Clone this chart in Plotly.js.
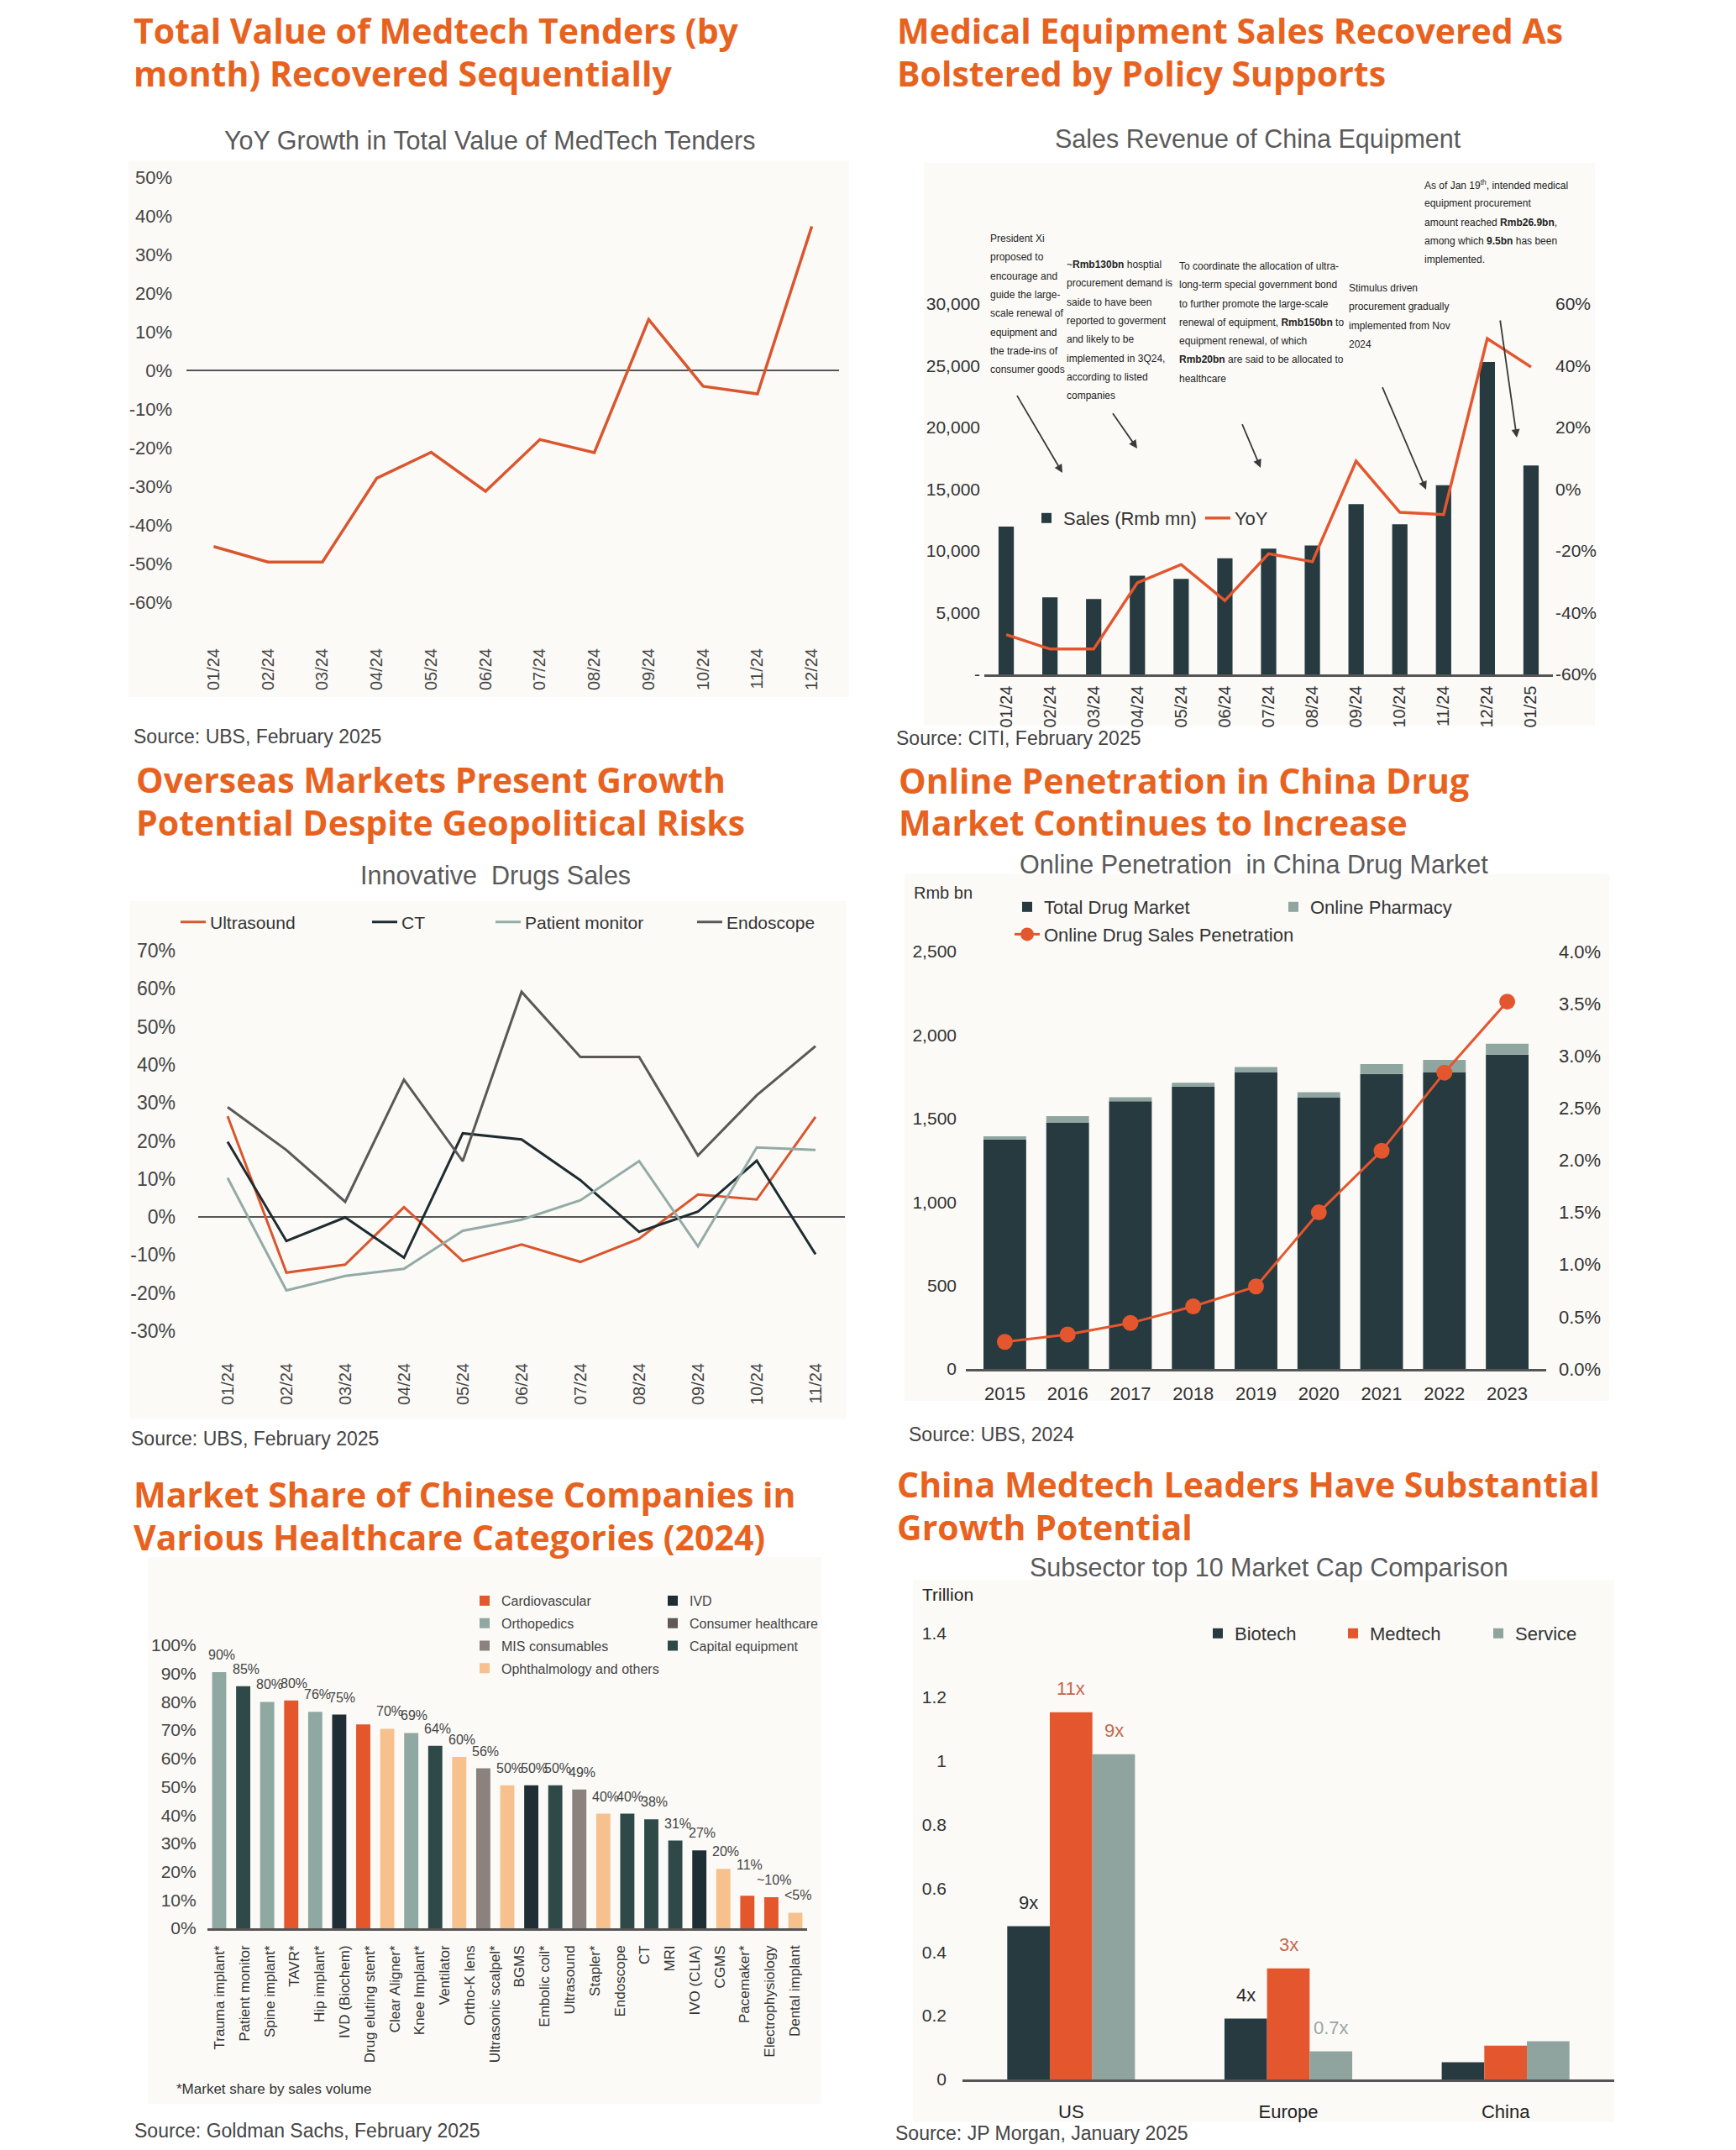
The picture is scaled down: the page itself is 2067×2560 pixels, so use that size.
<!DOCTYPE html>
<html>
<head>
<meta charset="utf-8">
<script src="https://cdn.plot.ly/plotly-3.0.1.min.js"></script>
<style>html,body{margin:0;padding:0;background:#fff}#chart{width:2067px;height:2560px}</style>
</head>
<body>
<div id="chart"></div>
<script>
// ================= DATA =================
// Panel 1: YoY growth in total value of MedTech tenders (%)
const tenderMonths = ['01/24','02/24','03/24','04/24','05/24','06/24','07/24','08/24','09/24','10/24','11/24','12/24'];
const tenderYoY = [-45.6,-49.6,-49.6,-27.9,-21.2,-31.3,-17.9,-21.3,13.2,-4.1,-6.1,37.3];

// Panel 2: Sales revenue of China equipment
const equipMonths = ['01/24','02/24','03/24','04/24','05/24','06/24','07/24','08/24','09/24','10/24','11/24','12/24','01/25'];
const equipSales = [11970,6250,6100,8000,7740,9410,10180,10440,13800,12160,15320,25300,16920];
const equipYoY = [-47.1,-51.8,-51.8,-30.3,-24.4,-36.1,-20.9,-23.5,9.1,-7.5,-8.2,48.8,39.6];
const note1 = ['President Xi','proposed to','encourage and','guide the large-','scale renewal of','equipment and','the trade-ins of','consumer goods'];
const note2 = ['~<b>Rmb130bn</b> hosptial','procurement demand is','saide to have been','reported to goverment','and likely to be','implemented in 3Q24,','according to listed','companies'];
const note3 = ['To coordinate the allocation of ultra-','long-term special government bond','to further promote the large-scale','renewal of equipment, <b>Rmb150bn</b> to','equipment renewal, of which','<b>Rmb20bn</b> are said to be allocated to','healthcare'];
const note4 = ['Stimulus driven','procurement gradually','implemented from Nov','2024'];
const note5 = ['As of Jan 19<sup>th</sup>, intended medical','equipment procurement','amount reached <b>Rmb26.9bn</b>,','among which <b>9.5bn</b> has been','implemented.'];

// Panel 3: Innovative drugs sales (%)
const drugMonths = ['01/24','02/24','03/24','04/24','05/24','06/24','07/24','08/24','09/24','10/24','11/24'];
const ultrasound = [26.5,-14.6,-12.5,2.6,-11.6,-7.2,-11.8,-5.7,5.9,4.6,26.3];
const ct = [19.8,-6.3,-0.1,-10.7,22.0,20.4,9.7,-3.9,1.4,14.8,-9.8];
const patientMonitor = [10.3,-19.3,-15.5,-13.6,-3.6,-0.7,4.4,14.7,-7.7,18.3,17.6];
const endoscope = [28.9,17.6,4.0,36.1,14.7,59.2,42.1,42.1,16.2,32.0,44.9];

// Panel 4: Online penetration in China drug market
const years = ['2015','2016','2017','2018','2019','2020','2021','2022','2023'];
const totalDrugMarket = [1374,1476,1603,1692,1778,1627,1767,1778,1883];
const onlinePharmacy = [19,38,24,22,30,30,59,73,65];
const onlinePenetration = [0.26,0.33,0.44,0.60,0.79,1.50,2.09,2.84,3.52];

// Panel 5: Market share of Chinese companies (2024)
const shareBars = ['Trauma implant*','Patient monitor','Spine implant*','TAVR*','Hip implant*','IVD (Biochem)','Drug eluting stent*','Clear Aligner*','Knee Implant*','Ventilator','Ortho-K lens','Ultrasonic scalpel*','BGMS','Embolic coil*','Ultrasound','Stapler*','(unlabelled)','Endoscope','CT','MRI','IVO (CLIA)','CGMS','Pacemaker*','Electrophysiology','Dental implant'];
const shareLabels = ['Trauma implant*','Patient monitor','Spine implant*','TAVR*','Hip implant*','IVD (Biochem)','Drug eluting stent*','Clear Aligner*','Knee Implant*','Ventilator','Ortho-K lens','Ultrasonic scalpel*','BGMS','Embolic coil*','Ultrasound','Stapler*','Endoscope','CT','MRI','IVO (CLIA)','CGMS','Pacemaker*','Electrophysiology','Dental implant'];
const shareValues = [90.5,85.5,80,80.5,76.5,75.5,72,70.5,69,64.5,60.5,56.5,50.5,50.5,50.5,49,40.5,40.5,38.5,31,27.5,21,11.5,11,5.5];
const shareText = ['90%','85%','80%','80%','76%','75%','','70%','69%','64%','60%','56%','50%','50%','50%','49%','40%','40%','38%','31%','27%','20%','11%','~10%','<5%'];
const shareGroup = ['Orthopedics','Capital equipment','Orthopedics','Cardiovascular','Orthopedics','IVD','Cardiovascular','Ophthalmology and others','Orthopedics','Capital equipment','Ophthalmology and others','MIS consumables','Ophthalmology and others','IVD','Capital equipment','MIS consumables','Ophthalmology and others','Capital equipment','Capital equipment','Capital equipment','IVD','Ophthalmology and others','Cardiovascular','Cardiovascular','Ophthalmology and others'];
const groupCol1 = ['Cardiovascular','Orthopedics','MIS consumables','Ophthalmology and others'];
const groupCol2 = ['IVD','Consumer healthcare','Capital equipment'];

// Panel 6: Subsector top 10 market cap (trillion)
const regions = ['US','Europe','China'];
const biotech = [0.481,0.191,0.054];
const medtech = [1.153,0.349,0.106];
const service = [1.021,0.088,0.120];
const biotechText = ['9x','4x',''];
const medtechText = ['11x','3x',''];
const serviceText = ['9x','0.7x',''];

// ================= STYLE / HELPERS =================
const W = 2067, H = 2560;
const dX = (a,b) => [a/W, b/W];
const dY = (t,b) => [1-b/H, 1-t/H];
const pX = v => v/W;
const pY = v => 1-v/H;
const FONT = 'Liberation Sans, Arial, Helvetica, sans-serif';
const TFONT = 'Open Sans, Lato, sans-serif';
const ORANGE_T = '#E8621F';
const C = {
  line:'#D9562E', dark:'#263A3F', red:'#E4572E', sage:'#8FA5A0',
  ct:'#1E2B30', pm:'#93ABA6', endo:'#5B5857', axis:'#555555'
};
const groupColors = {
  'Cardiovascular':'#E4562C','IVD':'#1F2E35','Orthopedics':'#8FA8A2','Consumer healthcare':'#5F5857',
  'MIS consumables':'#8B817D','Capital equipment':'#2F4848','Ophthalmology and others':'#F7C18E'
};
// extra lift (px) of a few value labels in panel 5, as in the reference layout
const shareLabelLift = {'11%':16};
const tick = (size, color) => ({family:FONT, size:size||21, color:color||'#444'});
function pctTicks(lo, hi, step){ const v=[]; for(let t=lo;t<=hi;t+=step) v.push(t); return {tickvals:v, ticktext:v.map(t=>t+'%')}; }
const base = {showgrid:false, zeroline:false, showline:false, ticks:'', fixedrange:true};

// ================= TRACES =================
const traces = [];
// Panel 1
traces.push({type:'scatter', mode:'lines', x:tenderMonths, y:tenderYoY, xaxis:'x', yaxis:'y',
  line:{color:C.line, width:3.5}, showlegend:false, hoverinfo:'skip'});
// Panel 2
traces.push({type:'bar', x:equipMonths, y:equipSales, xaxis:'x2', yaxis:'y2', width:0.35,
  marker:{color:C.dark}, name:'Sales (Rmb mn)', legend:'legend'});
traces.push({type:'scatter', mode:'lines', x:equipMonths, y:equipYoY, xaxis:'x2', yaxis:'y3',
  line:{color:C.red, width:3.5}, name:'YoY', legend:'legend'});
// Panel 3
[[ultrasound,'Ultrasound',C.line,'legend2'],[ct,'CT',C.ct,'legend3'],[patientMonitor,'Patient monitor',C.pm,'legend4'],[endoscope,'Endoscope',C.endo,'legend5']]
.forEach(([vals,name,col,lg]) => traces.push({type:'scatter', mode:'lines', x:drugMonths, y:vals, xaxis:'x3', yaxis:'y4',
  line:{color:col, width:3}, name:name, legend:lg}));
// Panel 4
traces.push({type:'bar', x:years, y:totalDrugMarket, xaxis:'x4', yaxis:'y5', width:0.68,
  marker:{color:C.dark}, name:'Total Drug Market', legend:'legend6', legendgroup:'g1'});
traces.push({type:'bar', x:years, y:onlinePharmacy, base:totalDrugMarket, xaxis:'x4', yaxis:'y5', width:0.68,
  marker:{color:C.sage}, name:'Online Pharmacy', legend:'legend7', legendgroup:'g2'});
traces.push({type:'scatter', mode:'lines+markers', x:years, y:onlinePenetration, xaxis:'x4', yaxis:'y6',
  line:{color:C.red, width:3}, marker:{color:C.red, size:19}, name:'Online Drug Sales Penetration', legend:'legend6', legendgroup:'g3'});
// Panel 5
function groupTrace(g, lg){
  const idx = shareBars.map((_,i)=>i).filter(i => shareGroup[i] === g);
  const xs = idx.length ? idx.map(i=>shareBars[i]) : [null];
  const ys = idx.length ? idx.map(i=>shareValues[i]) : [null];
  return {type:'bar', x:xs, y:ys, xaxis:'x5', yaxis:'y7', width:0.59,
    marker:{color:groupColors[g]}, name:g, legend:lg, legendgroup:g};
}
groupCol1.forEach(g => traces.push(groupTrace(g,'legend8')));
groupCol2.forEach(g => traces.push(groupTrace(g,'legend9')));
traces.push({type:'scatter', mode:'markers', x:shareLabels, y:shareLabels.map(()=>0), xaxis:'x6', yaxis:'y7',
  marker:{opacity:0, size:1}, showlegend:false, hoverinfo:'skip'});
// Panel 6
const p6Width = 0.196, p6Offsets = [-0.294,-0.098,0.098];
[[biotech,'Biotech',C.dark,'legend10'],[medtech,'Medtech',C.red,'legend11'],[service,'Service','#8FA49F','legend12']]
.forEach(([vals,name,col,lg],j) => traces.push({type:'bar', x:regions, y:vals, xaxis:'x7', yaxis:'y8',
  width:p6Width, offset:p6Offsets[j], marker:{color:col}, name:name, legend:lg}));

// ================= ANNOTATIONS =================
const ann = [];
function txt(text, x, y, size, color, opts){
  ann.push(Object.assign({text:text, x:pX(x), y:pY(y), xref:'paper', yref:'paper', showarrow:false,
    xanchor:'left', yanchor:'middle', align:'left', font:{family:FONT, size:size, color:color}}, opts||{}));
}
// Titles (one annotation per line)
const titleLineH = 50.5;
[[['Total Value of Medtech Tenders (by','month) Recovered Sequentially'],157,36],
 [['Medical Equipment Sales Recovered As','Bolstered by Policy Supports'],1066,36],
 [['Overseas Markets Present Growth','Potential Despite Geopolitical Risks'],160,928],
 [['Online Penetration in China Drug','Market Continues to Increase'],1068,929],
 [['Market Share of Chinese Companies in','Various Healthcare Categories (2024)'],157,1779],
 [['China Medtech Leaders Have Substantial','Growth Potential'],1066,1767]]
.forEach(([lines,x,y0]) => lines.forEach((l,i) => txt(l,x,y0+i*titleLineH,41,ORANGE_T,
  {font:{family:TFONT,size:41,color:ORANGE_T,weight:700}})));
// Subtitles
[['YoY Growth in Total Value of MedTech Tenders',583,167],['Sales Revenue of China Equipment',1498,165],
 ['Innovative  Drugs Sales',590,1042],['Online Penetration  in China Drug Market',1493,1029],
 ['Subsector top 10 Market Cap Comparison',1511,1866]]
.forEach(([t,x,y]) => txt(t,x,y,30.5,'#5A5A5A',{xanchor:'center', align:'center'}));
// Sources
[['Source: UBS, February 2025',157,877],['Source: CITI, February 2025',1065,879],
 ['Source: UBS, February 2025',154,1713],['Source: UBS, 2024',1080,1708],
 ['Source: Goldman Sachs, February 2025',158,2537],['Source: JP Morgan, January 2025',1064,2540]]
.forEach(([t,x,y]) => txt(t,x,y,23,'#444'));
txt('Rmb bn',1086,1063,20,'#333');
txt('Trillion',1096,1898,21,'#222');
txt('*Market share by sales volume',208,2487,17,'#333');
// Panel 2 notes (one annotation per line)
const noteLineH = 22.3;
[[note1,1177,284],[note2,1268,315],[note3,1402,317],[note4,1604,343],[note5,1694,220]]
.forEach(([lines,x,y0]) => lines.forEach((l,i) => txt(l,x,y0+i*noteLineH,12,'#222')));
// Panel 2 arrows: [headX, headY, tailDX, tailDY]
[[1265,563,-57,-97],[1354,534,-32,-46],[1501,557,-25,-59],[1698,583,-55,-129],[1806,521,-21,-148]]
.forEach(([hx,hy,ax,ay]) => ann.push({x:pX(hx), y:pY(hy), xref:'paper', yref:'paper', text:' ', showarrow:true,
  ax:ax, ay:ay, arrowhead:2, arrowsize:1.1, arrowwidth:1.8, arrowcolor:'#3a3a3a'}));
// Panel 5 value labels
shareBars.forEach((b,i) => { if(shareText[i]) ann.push({x:b, y:shareValues[i], xref:'x5', yref:'y7', text:shareText[i],
  showarrow:false, yanchor:'bottom', xanchor:'center', yshift:10+(shareLabelLift[shareText[i]]||0), xshift:3,
  font:{family:FONT, size:16, color:'#444'}}); });
// Panel 6 value labels
const p6Label = [[biotech,biotechText,['#2B2B2B','#2B2B2B','#2B2B2B']],[medtech,medtechText,['#C4674D','#C4674D','#C4674D']],[service,serviceText,['#C4674D','#9AA6A3','#9AA6A3']]];
p6Label.forEach(([vals,texts,cols],j) => regions.forEach((r,i) => { if(texts[i]) ann.push({
  x:i+p6Offsets[j]+p6Width/2, y:vals[i], xref:'x7', yref:'y8', text:texts[i], showarrow:false,
  yanchor:'bottom', xanchor:'center', yshift:14, font:{family:FONT, size:22, color:cols[i]}}); }));

// ================= SHAPES (panel backgrounds) =================
const BG = '#FBFAF7';
const shapes = [[153,191,1011,830],[1100,194,1899,864],[154,1073,1008,1689],[1077,1041,1916,1668],[176,1854,978,2505],[1087,1881,1922,2527]]
.map(([x0,y0,x1,y1]) => ({type:'rect', xref:'paper', yref:'paper', x0:pX(x0), x1:pX(x1), y0:pY(y1), y1:pY(y0),
  fillcolor:BG, line:{width:0}, layer:'below'}));

// ================= LEGENDS =================
function leg(x, y, o){
  return Object.assign({x:pX(x), y:pY(y), xref:'paper', yref:'paper', xanchor:'left', yanchor:'middle',
    bgcolor:'rgba(0,0,0,0)', borderwidth:0, orientation:'h', font:{family:FONT, size:21, color:'#333'}}, o||{});
}

// ================= LAYOUT =================
const p1t = pctTicks(-60,50,10), p2t = pctTicks(-60,60,20), p3t = pctTicks(-30,70,10), p5t = pctTicks(0,100,10);
const layout = {
  width:W, height:H, margin:{l:0,r:0,t:0,b:0}, paper_bgcolor:'#FFFFFF', plot_bgcolor:'rgba(0,0,0,0)',
  barmode:'overlay', showlegend:true, hovermode:false, font:{family:FONT, color:'#444'},
  // Panel 1
  xaxis:Object.assign({}, base, {domain:dX(222,999), anchor:'y', type:'category', range:[-0.5,11.5], tickangle:-90,
    tickfont:tick(20), ticklabelstandoff:50}),
  yaxis:Object.assign({}, base, {domain:dY(211,717), anchor:'x', range:[-60,50], tickvals:p1t.tickvals, ticktext:p1t.ticktext,
    zeroline:true, zerolinecolor:C.axis, zerolinewidth:2.5, tickfont:tick(22), ticklabelstandoff:16}),
  // Panel 2
  xaxis2:Object.assign({}, base, {domain:dX(1172,1849), anchor:'y2', type:'category', tickangle:-90,
    showline:true, linecolor:C.axis, linewidth:2.5, tickfont:tick(20,'#333'), ticklabelstandoff:3}),
  yaxis2:Object.assign({}, base, {domain:dY(362,803), anchor:'x2', range:[0,30000],
    tickvals:[0,5000,10000,15000,20000,25000,30000], ticktext:['-','5,000','10,000','15,000','20,000','25,000','30,000'],
    tickfont:tick(21,'#333'), ticklabelstandoff:4}),
  yaxis3:Object.assign({}, base, {overlaying:'y2', side:'right', anchor:'x2', range:[-60,60],
    tickvals:p2t.tickvals, ticktext:p2t.ticktext, tickfont:tick(21,'#333'), ticklabelstandoff:2}),
  // Panel 3
  xaxis3:Object.assign({}, base, {domain:dX(236,1006), anchor:'y4', type:'category', range:[-0.5,10.5], tickangle:-90,
    tickfont:tick(20), ticklabelstandoff:33}),
  yaxis4:Object.assign({}, base, {domain:dY(1132,1585), anchor:'x3', range:[-30,70], tickvals:p3t.tickvals, ticktext:p3t.ticktext,
    zeroline:true, zerolinecolor:C.axis, zerolinewidth:2.5, tickfont:tick(23), ticklabelstandoff:26}),
  // Panel 4
  xaxis4:Object.assign({}, base, {domain:dX(1150,1841), anchor:'y5', type:'category',
    showline:true, linecolor:C.axis, linewidth:3, tickfont:tick(22,'#333'), ticklabelstandoff:8}),
  yaxis5:Object.assign({}, base, {domain:dY(1133,1630), anchor:'x4', range:[0,2500], dtick:500, tickformat:',',
    tickfont:tick(21,'#333'), ticklabelstandoff:10}),
  yaxis6:Object.assign({}, base, {overlaying:'y5', side:'right', anchor:'x4', range:[0,4], dtick:0.5, tickformat:'.1f',
    ticksuffix:'%', tickfont:tick(22,'#333'), ticklabelstandoff:14}),
  // Panel 5
  xaxis5:Object.assign({}, base, {domain:dX(246.7,961.3), anchor:'y7', type:'category', categoryorder:'array',
    categoryarray:shareBars, range:[-0.5,24.5], showticklabels:false, showline:true, linecolor:C.axis, linewidth:3}),
  xaxis6:Object.assign({}, base, {domain:dX(246.7,961.3), overlaying:'x5', anchor:'y7', type:'category', categoryorder:'array',
    categoryarray:shareLabels, range:[-0.5,23.5], tickangle:-90, tickfont:tick(17,'#333'), ticklabelstandoff:16}),
  yaxis7:Object.assign({}, base, {domain:dY(1959,2296), anchor:'x5', range:[0,100], tickvals:p5t.tickvals, ticktext:p5t.ticktext,
    tickfont:tick(21), ticklabelstandoff:12}),
  // Panel 6
  xaxis7:Object.assign({}, base, {domain:dX(1146,1922), anchor:'y8', type:'category',
    showline:true, linecolor:C.axis, linewidth:3, tickfont:tick(22,'#222'), ticklabelstandoff:17}),
  yaxis8:Object.assign({}, base, {domain:dY(1945,2476), anchor:'x7', range:[0,1.4],
    tickvals:[0,0.2,0.4,0.6,0.8,1,1.2,1.4], ticktext:['0','0.2','0.4','0.6','0.8','1','1.2','1.4'],
    tickfont:tick(21,'#333'), ticklabelstandoff:18}),
  // Legends
  legend:leg(1226,617,{font:{family:FONT,size:22,color:'#333'}}),
  legend2:leg(210,1098), legend3:leg(438,1098), legend4:leg(585,1098), legend5:leg(825,1098),
  legend6:leg(1203,1059,{orientation:'v', yanchor:'top', traceorder:'grouped', tracegroupgap:1, font:{family:FONT,size:22,color:'#333'}}),
  legend7:leg(1520,1059,{orientation:'v', yanchor:'top', font:{family:FONT,size:22,color:'#333'}}),
  legend8:leg(557,1889,{orientation:'v', yanchor:'top', traceorder:'grouped', tracegroupgap:3, font:{family:FONT,size:16,color:'#444'}}),
  legend9:leg(781,1889,{orientation:'v', yanchor:'top', traceorder:'grouped', tracegroupgap:3, font:{family:FONT,size:16,color:'#444'}}),
  legend10:leg(1430,1945,{font:{family:FONT,size:22,color:'#333'}}),
  legend11:leg(1591,1945,{font:{family:FONT,size:22,color:'#333'}}),
  legend12:leg(1764,1945,{font:{family:FONT,size:22,color:'#333'}}),
  annotations:ann, shapes:shapes
};

Plotly.newPlot('chart', traces, layout, {displayModeBar:false, staticPlot:true});
</script>
</body>
</html>
